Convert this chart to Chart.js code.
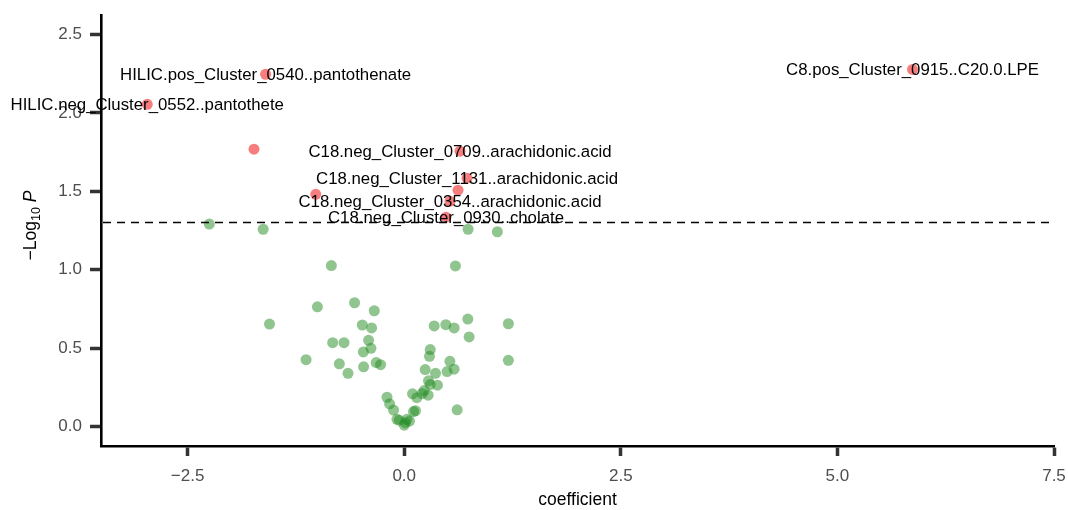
<!DOCTYPE html>
<html>
<head>
<meta charset="utf-8">
<script src="https://cdn.jsdelivr.net/npm/chart.js@4/dist/chart.umd.min.js"></script>
<style>
  html, body { margin: 0; padding: 0; background: #fff; }
</style>
</head>
<body>
<canvas id="chart" width="1068" height="510"></canvas>
<script>
// significant features (p < 0.05), drawn red; empty label = not annotated
const sigX = [-1.600, -2.966, -1.734, 5.867, 0.644, 0.725, 0.621, -1.021, 0.529, 0.482]
const sigY = [2.247, 2.055, 1.769, 2.278, 1.756, 1.584, 1.507, 1.481, 1.437, 1.335]
const sigLabels = [
  'HILIC.pos_Cluster_0540..pantothenate',
  'HILIC.neg_Cluster_0552..pantothete',
  '',
  'C8.pos_Cluster_0915..C20.0.LPE',
  'C18.neg_Cluster_0709..arachidonic.acid',
  'C18.neg_Cluster_1131..arachidonic.acid',
  '',
  '',
  'C18.neg_Cluster_0354..arachidonic.acid',
  'C18.neg_Cluster_0930..cholate'
]

// non significant features, drawn green
const nsX = [-2.250, -1.628, 0.737, 1.075, -0.841, 0.591, -1.002, -0.573, -0.346, -1.555,
  -0.484, -0.377, 0.346, 0.480, 0.576, 0.734, 1.202, 0.749, -0.826, -0.695,
  -0.411, -0.384, -0.472, 0.300, 0.291, -1.133, -0.749, -0.649, -0.469, -0.323,
  -0.273, 0.527, 1.202, 0.242, 0.361, 0.495, 0.576, 0.280, 0.300, 0.384,
  0.230, 0.207, 0.276, 0.096, 0.146, -0.199, -0.169, -0.123, 0.130, 0.107,
  0.611, -0.058, 0.012, 0.061, 0.000, 0.031, -0.084]
const nsY = [1.291, 1.258, 1.258, 1.242, 1.026, 1.024, 0.763, 0.789, 0.738, 0.653,
  0.647, 0.628, 0.641, 0.649, 0.628, 0.685, 0.655, 0.571, 0.534, 0.534,
  0.549, 0.498, 0.475, 0.490, 0.447, 0.426, 0.399, 0.339, 0.380, 0.407,
  0.394, 0.415, 0.422, 0.363, 0.339, 0.350, 0.365, 0.291, 0.267, 0.263,
  0.229, 0.210, 0.199, 0.208, 0.183, 0.186, 0.144, 0.104, 0.100, 0.095,
  0.106, 0.040, 0.024, 0.034, 0.008, 0.045, 0.045]

const xTicks = [-2.5, 0, 2.5, 5, 7.5]
const yTicks = [0, 0.5, 1, 1.5, 2, 2.5]
const pCutoff = -Math.log10(0.05)

const FONT = "'Liberation Sans', Arial, Helvetica, sans-serif"

function toPoints(xs, ys) {
  return xs.map((x, i) => ({ x: x, y: ys[i] }))
}

function fmtTick(v) {
  return v.toFixed(1).replace('-', '\u2212')
}

// text labels centred on the annotated points, then the dashed cutoff line
const pointLabels = {
  id: 'pointLabels',
  afterDatasetsDraw(chart) {
    const ctx = chart.ctx
    const meta = chart.getDatasetMeta(0)
    ctx.save()
    ctx.font = '16.8px ' + FONT
    ctx.fillStyle = '#000'
    ctx.textAlign = 'center'
    ctx.textBaseline = 'middle'
    meta.data.forEach((pt, i) => {
      if (sigLabels[i]) ctx.fillText(sigLabels[i], pt.x, pt.y + 1)
    })
    ctx.restore()

    const area = chart.chartArea
    const yPix = chart.scales.y.getPixelForValue(pCutoff)
    ctx.save()
    ctx.strokeStyle = '#000'
    ctx.lineWidth = 1.6
    ctx.setLineDash([8, 6])
    ctx.beginPath()
    ctx.moveTo(area.left + 2, yPix)
    ctx.lineTo(area.right, yPix)
    ctx.stroke()
    ctx.restore()
  }
}

// axis titles (the y one needs a subscript and an italic P)
const axisTitles = {
  id: 'axisTitles',
  afterDraw(chart) {
    const ctx = chart.ctx
    const area = chart.chartArea
    ctx.save()
    ctx.fillStyle = '#000'
    ctx.font = '17.5px ' + FONT
    ctx.textAlign = 'center'
    ctx.textBaseline = 'middle'
    ctx.fillText('coefficient', (area.left + area.right) / 2, 500)

    const partA = '\u2212Log'
    const partB = '10'
    const partC = ' P'
    ctx.font = '17.5px ' + FONT
    const wA = ctx.measureText(partA).width
    ctx.font = '12.5px ' + FONT
    const wB = ctx.measureText(partB).width
    ctx.font = 'italic 17.5px ' + FONT
    const wC = ctx.measureText(partC).width
    const total = wA + wB + wC

    ctx.translate(36, (area.top + area.bottom) / 2 - 5)
    ctx.rotate(-Math.PI / 2)
    ctx.textAlign = 'left'
    ctx.textBaseline = 'alphabetic'
    let x0 = -total / 2
    ctx.font = '17.5px ' + FONT
    ctx.fillText(partA, x0, 0)
    x0 += wA
    ctx.font = '12.5px ' + FONT
    ctx.fillText(partB, x0, 4)
    x0 += wB
    ctx.font = 'italic 17.5px ' + FONT
    ctx.fillText(partC, x0, 0)
    ctx.restore()
  }
}

const ctx = document.getElementById('chart').getContext('2d')

new Chart(ctx, {
  type: 'scatter',
  data: {
    datasets: [
      {
        label: 'significant',
        data: toPoints(sigX, sigY),
        backgroundColor: 'rgba(240, 20, 20, 0.55)',
        borderWidth: 0,
        pointRadius: 5.5,
        pointHoverRadius: 5.5
      },
      {
        label: 'not significant',
        data: toPoints(nsX, nsY),
        backgroundColor: 'rgba(34, 139, 34, 0.5)',
        borderWidth: 0,
        pointRadius: 5.5,
        pointHoverRadius: 5.5
      }
    ]
  },
  options: {
    responsive: false,
    animation: false,
    devicePixelRatio: 1,
    layout: {
      padding: { top: 15, right: 14, bottom: 0, left: 0 }
    },
    plugins: {
      legend: { display: false },
      tooltip: { enabled: false }
    },
    scales: {
      x: {
        type: 'linear',
        min: -3.5,
        max: 7.5,
        afterBuildTicks: scale => { scale.ticks = xTicks.map(v => ({ value: v })) },
        afterFit: scale => {
          scale.height = 64
          scale.paddingLeft = 0
          scale.paddingRight = 0
        },
        border: { display: true, color: '#000', width: 2.6 },
        grid: {
          drawOnChartArea: false,
          drawTicks: true,
          tickLength: 10,
          tickWidth: 3.5,
          tickColor: '#333'
        },
        ticks: {
          color: '#4d4d4d',
          font: { family: FONT, size: 17 },
          padding: 10,
          maxRotation: 0,
          autoSkip: false,
          callback: v => fmtTick(v)
        }
      },
      y: {
        type: 'linear',
        min: -0.125,
        max: 2.625,
        afterBuildTicks: scale => { scale.ticks = yTicks.map(v => ({ value: v })) },
        afterFit: scale => {
          scale.width = 101
          scale.paddingTop = 0
          scale.paddingBottom = 0
        },
        border: { display: true, color: '#000', width: 2.6 },
        grid: {
          drawOnChartArea: false,
          drawTicks: true,
          tickLength: 11,
          tickWidth: 3.5,
          tickColor: '#333'
        },
        ticks: {
          color: '#4d4d4d',
          font: { family: FONT, size: 17 },
          padding: 8,
          autoSkip: false,
          callback: v => fmtTick(v)
        }
      }
    }
  },
  plugins: [pointLabels, axisTitles]
})
</script>
</body>
</html>
